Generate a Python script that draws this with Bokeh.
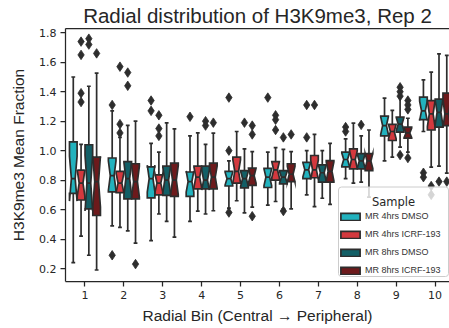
import math
from bokeh.plotting import figure
from bokeh.models import (Range1d, FixedTicker, PrintfTickFormatter,
                          Legend, LegendItem, LinearAxis, Label, BoxAnnotation)
from bokeh.embed import file_html
from bokeh.resources import INLINE

TITLE = "Radial distribution of H3K9me3, Rep 2"
X_LABEL = "Radial Bin (Central \u2192 Peripheral)"
Y_LABEL = "H3K9me3 Mean Fraction"
LEGEND_TITLE = "Sample"
BINS = [1, 2, 3, 4, 5, 6, 7, 8, 9, 10]
Y_TICKS = [0.2, 0.4, 0.6, 0.8, 1.0, 1.2, 1.4, 1.6, 1.8]
SAMPLES = ["MR 4hrs DMSO", "MR 4hrs ICRF-193", "MR 8hrs DMSO", "MR 8hrs ICRF-193"]
COLORS = ["#22b2be", "#d3393e", "#135f66", "#6d1a1c"]
N_CELLS = 13

# MR 4hrs DMSO
dmso4_lo  = [0.24, 0.49, 0.39, 0.52, 0.61, 0.63, 0.70, 0.81, 0.93, 1.13]
dmso4_q1  = [0.71, 0.72, 0.68, 0.69, 0.76, 0.75, 0.81, 0.89, 1.10, 1.21]
dmso4_med = [0.81, 0.83, 0.81, 0.79, 0.81, 0.82, 0.87, 0.94, 1.17, 1.27]
dmso4_q3  = [1.06, 0.95, 0.89, 0.855, 0.86, 0.88, 0.92, 0.99, 1.235, 1.363]
dmso4_hi  = [1.50, 1.27, 1.05, 1.10, 0.93, 0.99, 1.00, 1.08, 1.357, 1.48]
dmso4_fl_bin = [2, 2, 3, 3, 4, 5, 5, 5, 6, 7, 7, 8, 8, 10, 10]
dmso4_fl_val = [1.31, 0.29, 1.34, 1.27, 1.23, 1.36, 1.00, 0.58, 1.36, 1.31, 1.09, 1.16, 1.13, 0.85, 0.82]

# MR 4hrs ICRF-193
icrf4_lo  = [0.42, 0.48, 0.57, 0.59, 0.66, 0.655, 0.62, 0.78, 0.956, 0.888]
icrf4_q1  = [0.665, 0.715, 0.70, 0.74, 0.78, 0.80, 0.816, 0.877, 1.069, 1.14]
icrf4_med = [0.78, 0.78, 0.78, 0.82, 0.86, 0.87, 0.87, 0.94, 1.13, 1.25]
icrf4_q3  = [0.868, 0.86, 0.836, 0.895, 0.956, 0.926, 0.967, 1.012, 1.178, 1.34]
icrf4_hi  = [1.042, 1.09, 0.99, 1.12, 1.13, 1.02, 1.11, 1.187, 1.273, 1.533]
icrf4_fl_bin = [1, 1, 1, 1, 2, 2, 2, 3, 3, 3, 6, 6, 6, 7, 10, 10]
icrf4_fl_val = [1.74, 1.65, 1.39, 1.33, 1.57, 1.18, 1.12, 1.24, 1.15, 1.10, 1.24, 1.21, 1.14, 1.31, 0.76, 0.70]

# MR 8hrs DMSO
dmso8_lo  = [0.29, 0.456, 0.52, 0.57, 0.578, 0.605, 0.677, 0.786, 1.024, 0.895]
dmso8_q1  = [0.605, 0.673, 0.696, 0.741, 0.748, 0.775, 0.786, 0.877, 1.126, 1.16]
dmso8_med = [0.78, 0.81, 0.80, 0.80, 0.81, 0.82, 0.85, 0.93, 1.18, 1.26]
dmso8_q3  = [1.04, 0.926, 0.895, 0.895, 0.865, 0.865, 0.904, 0.98, 1.227, 1.35]
dmso8_hi  = [1.437, 1.171, 1.189, 1.042, 1.012, 1.008, 1.00, 1.10, 1.368, 1.657]
dmso8_fl_bin = [1, 1, 2, 2, 4, 4, 5, 6, 6, 8, 9, 9, 9, 9, 10]
dmso8_fl_val = [1.76, 1.72, 1.53, 1.44, 1.20, 1.17, 1.19, 1.09, 0.59, 1.175, 1.43, 1.40, 1.37, 0.97, 0.79]

# MR 8hrs ICRF-193
icrf8_lo  = [0.19, 0.372, 0.413, 0.592, 0.617, 0.605, 0.635, 0.684, 0.99, 0.847]
icrf8_q1  = [0.56, 0.673, 0.69, 0.741, 0.764, 0.79, 0.786, 0.865, 1.085, 1.17]
icrf8_med = [0.79, 0.79, 0.80, 0.82, 0.83, 0.84, 0.86, 0.93, 1.12, 1.25]
icrf8_q3  = [0.956, 0.911, 0.915, 0.915, 0.881, 0.911, 0.933, 0.98, 1.16, 1.39]
icrf8_hi  = [1.526, 1.20, 1.148, 1.119, 0.994, 0.994, 1.05, 1.14, 1.22, 1.646]
icrf8_fl_bin = [1, 2, 4, 5, 5, 5, 6, 9, 9, 9, 9, 10]
icrf8_fl_val = [1.66, 0.23, 1.19, 1.17, 1.11, 0.555, 1.11, 1.34, 1.31, 1.28, 0.95, 0.79]

STATS = [
    (dmso4_lo, dmso4_q1, dmso4_med, dmso4_q3, dmso4_hi, dmso4_fl_bin, dmso4_fl_val),
    (icrf4_lo, icrf4_q1, icrf4_med, icrf4_q3, icrf4_hi, icrf4_fl_bin, icrf4_fl_val),
    (dmso8_lo, dmso8_q1, dmso8_med, dmso8_q3, dmso8_hi, dmso8_fl_bin, dmso8_fl_val),
    (icrf8_lo, icrf8_q1, icrf8_med, icrf8_q3, icrf8_hi, icrf8_fl_bin, icrf8_fl_val),
]

LINE = "#2d2d2d"
AX = "#262626"
OFFSETS = [-0.3, -0.1, 0.1, 0.3]
BOX_W = 0.196
CAP_W = BOX_W / 2
LW = 1.7
X_START, X_END = 0.5, 10.37
Y_START, Y_END = 0.112, 1.829

p = figure(width=449, height=328, output_backend="svg", toolbar_location=None,
           x_range=Range1d(X_START, X_END), y_range=Range1d(Y_START, Y_END),
           min_border_left=65, min_border_right=0, min_border_top=28, min_border_bottom=47,
           title=TITLE)
p.background_fill_color = "white"
p.border_fill_color = "white"
p.outline_line_color = None
p.xgrid.visible = False
p.ygrid.visible = False

p.title.text_font = "Liberation Sans"
p.title.text_font_size = "20.5px"
p.title.text_font_style = "normal"
p.title.text_color = AX
p.title.align = "center"
p.title.standoff = 3

legend_items = []
for i, (lo, q1, med, q3, hi, fb, fv) in enumerate(STATS):
    xs, ys = [], []
    wx0, wy0, wx1, wy1 = [], [], [], []
    cx0, cx1, cy = [], [], []
    mx0, mx1, my = [], [], []
    for j, b in enumerate(BINS):
        c = b + OFFSETS[i]
        L, R, k = c - BOX_W / 2, c + BOX_W / 2, BOX_W / 4
        nh = 1.57 * (q3[j] - q1[j]) / math.sqrt(N_CELLS)
        m = med[j]
        xs.append([L, R, R, R - k, R, R, L, L, L + k, L])
        ys.append([q1[j], q1[j], m - nh, m, m + nh, q3[j], q3[j], m + nh, m, m - nh])
        wx0 += [c, c]; wx1 += [c, c]
        wy0 += [q1[j], q3[j]]; wy1 += [lo[j], hi[j]]
        cx0 += [c - CAP_W / 2, c - CAP_W / 2]; cx1 += [c + CAP_W / 2, c + CAP_W / 2]
        cy += [lo[j], hi[j]]
        mx0.append(L + k); mx1.append(R - k); my.append(m)
    p.segment(x0=wx0, y0=wy0, x1=wx1, y1=wy1, line_color=LINE, line_width=LW)
    p.segment(x0=cx0, y0=cy, x1=cx1, y1=cy, line_color=LINE, line_width=LW)
    r = p.patches(xs=xs, ys=ys, fill_color=COLORS[i], line_color=LINE, line_width=LW,
                  line_join="miter")
    p.segment(x0=mx0, y0=my, x1=mx1, y1=my, line_color=LINE, line_width=LW)
    fx = [b + OFFSETS[i] for b in fb]
    p.scatter(x=fx, y=fv, marker="diamond", size=9.5, fill_color=LINE, line_color=LINE,
              line_width=0.8)
    legend_items.append(LegendItem(label=SAMPLES[i], renderers=[r]))

# axes
p.xaxis.ticker = FixedTicker(ticks=BINS)
p.yaxis.ticker = FixedTicker(ticks=Y_TICKS)
p.yaxis.formatter = PrintfTickFormatter(format="%.1f")
p.xaxis.axis_label = X_LABEL
p.yaxis.axis_label = Y_LABEL
for ax in (p.xaxis, p.yaxis):
    ax.axis_line_color = AX
    ax.axis_line_width = 1.25
    ax.major_tick_line_color = AX
    ax.major_tick_line_width = 1.25
    ax.major_tick_out = 5
    ax.major_tick_in = 0
    ax.minor_tick_line_color = None
    ax.major_label_text_font = "DejaVu Sans"
    ax.major_label_text_font_size = "11px"
    ax.major_label_text_color = AX
    ax.major_label_standoff = 4
    ax.axis_label_text_font = "Liberation Sans"
    ax.axis_label_text_font_size = "15.5px"
    ax.axis_label_text_font_style = "normal"
    ax.axis_label_text_color = AX
p.xaxis.axis_label_standoff = 5
p.yaxis.axis_label_standoff = 9

top = LinearAxis(ticker=FixedTicker(ticks=[]), axis_line_color=AX, axis_line_width=1.25,
                 major_tick_line_color=None, minor_tick_line_color=None,
                 major_label_text_font_size="0px", major_label_standoff=0)
p.add_layout(top, "above")

# legend frame (semi-transparent), drawn through the plot's own data scales
px_per_x = (449 - 65) / (X_END - X_START)
px_per_y = (281 - 28) / (Y_END - Y_START)
def dx(px):
    return X_START + (px - 65) / px_per_x
def dy(py):
    return Y_END - (py - 28) / px_per_y

frame_box = BoxAnnotation(left=dx(338), right=dx(448), top=dy(186.5), bottom=dy(276),
                          fill_color="white", fill_alpha=0.8,
                          line_color="#cccccc", line_width=1, line_alpha=1,
                          border_radius=3, editable=False)
p.add_layout(frame_box)

title_lbl = Label(x=dx(393), y=dy(201), text=LEGEND_TITLE, text_align="center",
                  text_baseline="alphabetic", text_font="DejaVu Sans",
                  text_font_size="11.5px", text_color=AX)
p.add_layout(title_lbl)

legend = Legend(items=legend_items, location=(273, 5), title="\u00a0",
                title_text_font="DejaVu Sans", title_text_font_size="11.5px",
                title_text_font_style="normal", title_text_color=AX,
                title_standoff=1,
                label_text_font="Liberation Sans", label_text_font_size="9px",
                label_text_color="#333333",
                glyph_width=24, glyph_height=9, label_height=12, label_standoff=3,
                spacing=6, padding=4, margin=0,
                border_line_color=None,
                background_fill_color="white", background_fill_alpha=0.0)
p.add_layout(legend, "center")

open("out.html", "w").write(file_html(p, INLINE))
